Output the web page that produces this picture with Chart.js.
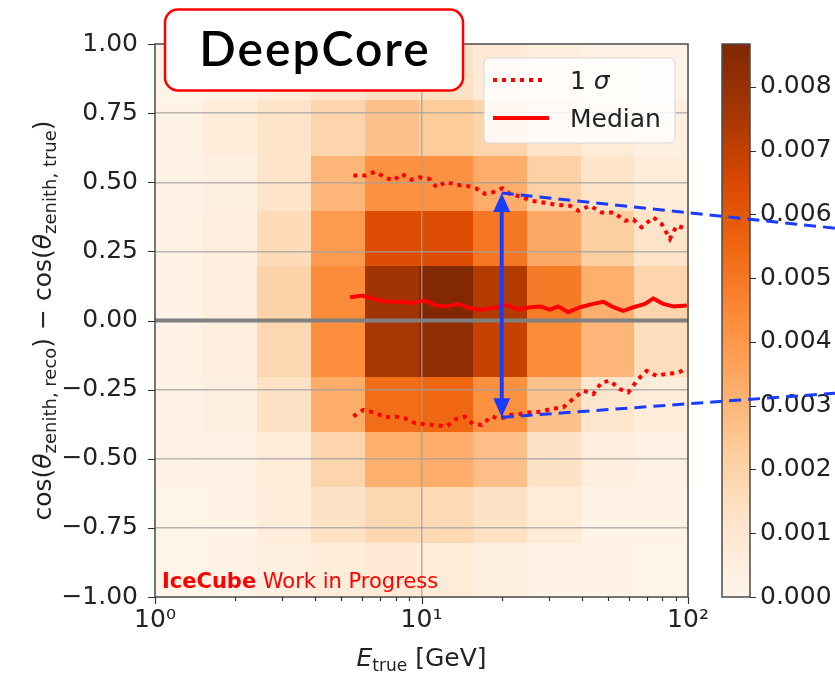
<!DOCTYPE html>
<html>
<head>
<meta charset="utf-8">
<script src="https://cdn.jsdelivr.net/npm/chart.js@4.4.0/dist/chart.umd.min.js"></script>
<style>
  html, body { margin: 0; padding: 0; background: #fff; }
  #wrap { width: 835px; height: 673px; }
</style>
</head>
<body>
<div id="wrap"><canvas id="c" width="835" height="673"></canvas></div>
<script>
// histogram bin edges
const energyEdges = [1.0, 1.5, 2.41, 3.85, 6.14, 9.79, 15.6, 24.9, 39.7, 62.7, 100];
const residualEdges = [-1.0, -0.8, -0.6, -0.4, -0.2, 0.0, 0.2, 0.4, 0.6, 0.8, 1.0];

// normalised counts, one row per residual bin (bottom row first)
const density = [
  [0.0001, 0.0002, 0.0004, 0.0006, 0.0008, 0.0007, 0.0004, 0.0002, 0.0002, 0.0001],
  [0.0001, 0.0002, 0.0006, 0.0013, 0.0018, 0.0017, 0.0013, 0.0007, 0.0002, 0.0002],
  [0.0002, 0.0003, 0.0007, 0.0019, 0.0032, 0.0033, 0.0027, 0.0013, 0.0005, 0.0003],
  [0.0002, 0.0004, 0.0013, 0.0033, 0.0053, 0.0055, 0.0042, 0.0026, 0.0011, 0.0006],
  [0.0002, 0.0005, 0.0018, 0.0043, 0.0076, 0.0082, 0.0069, 0.0044, 0.0030, 0.0015],
  [0.0002, 0.0005, 0.0020, 0.0044, 0.0077, 0.0086, 0.0073, 0.0049, 0.0032, 0.0019],
  [0.0002, 0.0005, 0.0016, 0.0039, 0.0063, 0.0063, 0.0050, 0.0034, 0.0022, 0.0012],
  [0.0002, 0.0004, 0.0012, 0.0030, 0.0042, 0.0042, 0.0033, 0.0021, 0.0012, 0.0006],
  [0.0002, 0.0006, 0.0012, 0.0019, 0.0026, 0.0023, 0.0019, 0.0012, 0.0007, 0.0004],
  [0.0001, 0.0002, 0.0006, 0.0011, 0.0014, 0.0013, 0.0008, 0.0005, 0.0003, 0.0002]
];
const colorMax = 0.00867;

// median curve
const medianEnergy = [5.4, 6.0, 6.6, 7.4, 8.3, 9.2, 10.3, 11.4, 12.4, 13.7, 15.2, 16.6, 18.3, 20.9, 23.1, 25.5,
  27.9, 30.3, 32.6, 35.5, 39.3, 44.1, 48.1, 52.5, 57.2, 62.4, 69.0, 74.1, 80.8, 88.1, 99.0];
const medianResidual = [0.084, 0.090, 0.078, 0.068, 0.068, 0.063, 0.072, 0.054, 0.051, 0.060, 0.044, 0.039, 0.044, 0.056, 0.039, 0.048,
  0.051, 0.039, 0.051, 0.030, 0.048, 0.060, 0.068, 0.048, 0.035, 0.048, 0.060, 0.080, 0.060, 0.051, 0.054];

// 1 sigma band, upper edge
const sigmaHighEnergy = [5.55, 6.14, 6.69, 7.30, 7.84, 8.43, 9.19, 9.87, 10.7, 11.4, 12.4, 13.4, 14.7, 16.0, 17.3, 18.6, 20.1, 21.5,
  23.4, 25.9, 28.6, 32.2, 36.1, 38.8, 42.9, 47.4, 52.5, 58.0, 62.4, 67.0, 74.1, 79.7, 85.5, 90.7, 98.9];
const sigmaHighResidual = [0.524, 0.524, 0.538, 0.518, 0.506, 0.530, 0.509, 0.518, 0.512, 0.482, 0.502, 0.490, 0.488, 0.478, 0.458, 0.464, 0.478, 0.458,
  0.449, 0.433, 0.427, 0.418, 0.415, 0.397, 0.415, 0.391, 0.391, 0.361, 0.365, 0.337, 0.373, 0.349, 0.295, 0.343, 0.331];

// 1 sigma band, lower edge
const sigmaLowEnergy = [5.55, 6.05, 6.59, 7.30, 7.96, 8.67, 9.45, 10.1, 11.2, 12.4, 13.5, 14.5, 15.6, 16.8, 18.3, 19.7, 21.5, 23.4,
  25.5, 27.9, 30.7, 34.0, 37.0, 40.5, 44.1, 47.4, 51.0, 55.4, 59.7, 65.0, 70.0, 76.1, 83.2, 90.7, 98.9];
const sigmaLowResidual = [-0.347, -0.323, -0.332, -0.350, -0.347, -0.354, -0.371, -0.374, -0.378, -0.383, -0.356, -0.347, -0.374, -0.378, -0.347, -0.356, -0.342, -0.338,
  -0.332, -0.330, -0.320, -0.314, -0.284, -0.254, -0.266, -0.224, -0.218, -0.248, -0.260, -0.212, -0.182, -0.200, -0.193, -0.190, -0.175];

// annotation (blue arrow + guide lines), in data units
const arrowEnergy = 20;
const arrowResidual = [0.461, -0.350];
const guideEnergy = 356;
const guideResidual = [0.334, -0.263];

// ticks
const energyTicks = [1, 2, 3, 4, 5, 6, 7, 8, 9, 10, 20, 30, 40, 50, 60, 70, 80, 90, 100];
const residualTicks = [-1, -0.75, -0.5, -0.25, 0, 0.25, 0.5, 0.75, 1];
const colorTicks = [0, 0.001, 0.002, 0.003, 0.004, 0.005, 0.006, 0.007, 0.008];

// matplotlib "Oranges"
const orangesStops = ['#fff5eb', '#fee6ce', '#fdd0a2', '#fdae6b', '#fd8d3c', '#f16913', '#d94801', '#a63603', '#7f2704'];

const FONT = 'DejaVu Sans';
const TEXT = '#222';
const RED = '#ff0000';
const BLUE = '#1a3cff';
const GRID = 'rgba(160,160,160,0.75)';
const FRAME = '#4a4a4a';

const supDigits = { 0: '\u2070', 1: '\u00b9', 2: '\u00b2' };

function hexRgb(h) {
  return [parseInt(h.slice(1, 3), 16), parseInt(h.slice(3, 5), 16), parseInt(h.slice(5, 7), 16)];
}

function orangeAt(t) {
  t = Math.max(0, Math.min(1, t));
  const pos = t * (orangesStops.length - 1);
  const i = Math.min(Math.floor(pos), orangesStops.length - 2);
  const f = pos - i;
  const a = hexRgb(orangesStops[i]), b = hexRgb(orangesStops[i + 1]);
  const c = a.map((v, k) => Math.round(v + (b[k] - v) * f));
  return `rgb(${c[0]},${c[1]},${c[2]})`;
}

function isDecade(v) {
  const l = Math.log10(v);
  return Math.abs(l - Math.round(l)) < 1e-9;
}

function zip(xs, ys) {
  return xs.map((x, i) => ({ x, y: ys[i] }));
}

// the scales get a fixed size so the plot box lands where the reference has it
function fixSize(prop, size) {
  return s => {
    s[prop] = size;
    s.paddingTop = 0; s.paddingBottom = 0;
    s.paddingLeft = 0; s.paddingRight = 0;
  };
}

// draws a run of text pieces (mixed fonts / subscripts) centred on cx
function drawRuns(ctx, runs, cx, baseY) {
  let total = 0;
  runs.forEach(r => { ctx.font = r.font; r.w = ctx.measureText(r.text).width; total += r.w; });
  let px = cx - total / 2;
  runs.forEach(r => {
    ctx.font = r.font;
    ctx.fillText(r.text, px, baseY + (r.dy || 0));
    px += r.w;
  });
}

// 2D histogram cells, drawn before the grid
const heatmapPlugin = {
  id: 'heatmap',
  beforeDraw(chart) {
    const { ctx, scales: { x, y } } = chart;
    ctx.save();
    density.forEach((row, r) => {
      row.forEach((val, c) => {
        const x0 = Math.round(x.getPixelForValue(energyEdges[c]));
        const x1 = Math.round(x.getPixelForValue(energyEdges[c + 1]));
        const y0 = Math.round(y.getPixelForValue(residualEdges[r + 1]));
        const y1 = Math.round(y.getPixelForValue(residualEdges[r]));
        ctx.fillStyle = orangeAt(val / colorMax);
        ctx.fillRect(x0, y0, x1 - x0 + 1, y1 - y0 + 1);
      });
    });
    ctx.restore();
  }
};

const decorPlugin = {
  id: 'decor',
  afterDraw(chart) {
    const { ctx, chartArea: a, scales: { x, y, cb } } = chart;
    ctx.save();

    // frame
    ctx.strokeStyle = FRAME;
    ctx.lineWidth = 1.5;
    ctx.strokeRect(a.left, a.top, a.right - a.left, a.bottom - a.top);

    // tick marks
    ctx.beginPath();
    energyTicks.forEach(v => {
      const px = Math.round(x.getPixelForValue(v)) + 0.5;
      ctx.moveTo(px, a.bottom);
      ctx.lineTo(px, a.bottom + (isDecade(v) ? 7 : 4));
    });
    residualTicks.forEach(v => {
      const py = Math.round(y.getPixelForValue(v)) + 0.5;
      ctx.moveTo(a.left - 7, py);
      ctx.lineTo(a.left, py);
    });
    ctx.lineWidth = 1.2;
    ctx.strokeStyle = '#333';
    ctx.stroke();

    // colour bar
    const barL = a.right + 34, barR = a.right + 62;
    const cTop = cb.getPixelForValue(colorMax), cBot = cb.getPixelForValue(0);
    const grad = ctx.createLinearGradient(0, cBot, 0, cTop);
    orangesStops.forEach((s, i) => grad.addColorStop(i / (orangesStops.length - 1), s));
    ctx.fillStyle = grad;
    ctx.fillRect(barL, cTop, barR - barL, cBot - cTop);
    ctx.strokeStyle = FRAME;
    ctx.lineWidth = 1.5;
    ctx.strokeRect(barL, cTop, barR - barL, cBot - cTop);
    ctx.beginPath();
    colorTicks.forEach(v => {
      const py = Math.round(cb.getPixelForValue(v)) + 0.5;
      ctx.moveTo(barR, py);
      ctx.lineTo(barR + 6, py);
    });
    ctx.lineWidth = 1.2;
    ctx.strokeStyle = '#333';
    ctx.stroke();

    // legend
    const lx = a.right - 204, ly = a.top + 14, lw = 191, lh = 85;
    ctx.beginPath();
    ctx.roundRect(lx, ly, lw, lh, 5);
    ctx.fillStyle = 'rgba(255,255,255,0.82)';
    ctx.fill();
    ctx.strokeStyle = '#d8d8d8';
    ctx.lineWidth = 1;
    ctx.stroke();
    const sigmaSet = chart.data.datasets[1], medianSet = chart.data.datasets[0];
    ctx.lineWidth = sigmaSet.borderWidth;
    ctx.strokeStyle = sigmaSet.borderColor;
    ctx.setLineDash(sigmaSet.borderDash);
    ctx.beginPath();
    ctx.moveTo(lx + 9, ly + 22);
    ctx.lineTo(lx + 62, ly + 22);
    ctx.stroke();
    ctx.setLineDash([]);
    ctx.lineWidth = medianSet.borderWidth;
    ctx.strokeStyle = medianSet.borderColor;
    ctx.beginPath();
    ctx.moveTo(lx + 9, ly + 60);
    ctx.lineTo(lx + 65, ly + 60);
    ctx.stroke();
    ctx.fillStyle = TEXT;
    ctx.textAlign = 'left';
    ctx.textBaseline = 'alphabetic';
    ctx.font = `25px ${FONT}`;
    ctx.fillText('1 ', lx + 86, ly + 31);
    const oneW = ctx.measureText('1 ').width;
    ctx.font = `italic 25px ${FONT}`;
    ctx.fillText('\u03c3', lx + 86 + oneW, ly + 31);
    ctx.font = `25px ${FONT}`;
    ctx.fillText('Median', lx + 86, ly + 69);

    // watermark
    ctx.fillStyle = RED;
    ctx.font = `bold 21px ${FONT}`;
    ctx.fillText('IceCube', a.left + 7, a.bottom - 9);
    const iw = ctx.measureText('IceCube').width;
    ctx.font = `21px ${FONT}`;
    ctx.fillText(' Work in Progress', a.left + 7 + iw, a.bottom - 9);

    // blue arrow and guide lines
    const ax = x.getPixelForValue(arrowEnergy);
    const yTop = y.getPixelForValue(arrowResidual[0]);
    const yBot = y.getPixelForValue(arrowResidual[1]);
    const gx = x.getPixelForValue(guideEnergy);
    ctx.strokeStyle = BLUE;
    ctx.lineWidth = 3;
    ctx.setLineDash([12, 7]);
    ctx.beginPath();
    ctx.moveTo(ax, yTop);
    ctx.lineTo(gx, y.getPixelForValue(guideResidual[0]));
    ctx.moveTo(ax, yBot);
    ctx.lineTo(gx, y.getPixelForValue(guideResidual[1]));
    ctx.stroke();
    ctx.setLineDash([]);
    ctx.lineWidth = 4;
    ctx.beginPath();
    ctx.moveTo(ax, yTop + 16);
    ctx.lineTo(ax, yBot - 16);
    ctx.stroke();
    ctx.fillStyle = BLUE;
    ctx.beginPath();
    ctx.moveTo(ax, yTop);
    ctx.lineTo(ax - 8.5, yTop + 19);
    ctx.lineTo(ax + 8.5, yTop + 19);
    ctx.closePath();
    ctx.moveTo(ax, yBot);
    ctx.lineTo(ax - 8.5, yBot - 19);
    ctx.lineTo(ax + 8.5, yBot - 19);
    ctx.closePath();
    ctx.fill();

    // axis titles
    ctx.fillStyle = TEXT;
    drawRuns(ctx, [
      { text: 'E', font: `italic 25px ${FONT}` },
      { text: 'true', font: `17px ${FONT}`, dy: 5 },
      { text: ' [GeV]', font: `25px ${FONT}` }
    ], (a.left + a.right) / 2, 666);

    ctx.save();
    ctx.translate(51, (a.top + a.bottom) / 2);
    ctx.rotate(-Math.PI / 2);
    drawRuns(ctx, [
      { text: 'cos(', font: `25px ${FONT}` },
      { text: '\u03b8', font: `italic 25px ${FONT}` },
      { text: 'zenith, reco', font: `18px ${FONT}`, dy: 5 },
      { text: ') \u2212 cos(', font: `25px ${FONT}` },
      { text: '\u03b8', font: `italic 25px ${FONT}` },
      { text: 'zenith, true', font: `18px ${FONT}`, dy: 5 },
      { text: ')', font: `25px ${FONT}` }
    ], 0, 0);
    ctx.restore();

    // detector label
    ctx.beginPath();
    ctx.roundRect(165, 9.5, 298, 81, 13);
    ctx.fillStyle = '#fff';
    ctx.fill();
    ctx.strokeStyle = RED;
    ctx.lineWidth = 2.5;
    ctx.stroke();
    ctx.fillStyle = '#000';
    ctx.textAlign = 'center';
    ctx.font = '600 48px Lato';
    ctx.letterSpacing = '2px';
    ctx.fillText('DeepCore', 315, 66);

    ctx.restore();
  }
};

new Chart(document.getElementById('c'), {
  type: 'scatter',
  data: {
    datasets: [
      {
        label: 'Median',
        data: zip(medianEnergy, medianResidual),
        showLine: true, pointRadius: 0,
        borderColor: RED, borderWidth: 4, borderJoinStyle: 'round',
        order: 1
      },
      {
        label: '1 \u03c3',
        data: zip(sigmaHighEnergy, sigmaHighResidual),
        showLine: true, pointRadius: 0,
        borderColor: RED, borderWidth: 4, borderDash: [4, 5],
        order: 1
      },
      {
        label: '1 \u03c3 (lower)',
        data: zip(sigmaLowEnergy, sigmaLowResidual),
        showLine: true, pointRadius: 0,
        borderColor: RED, borderWidth: 4, borderDash: [4, 5],
        order: 1
      },
      {
        label: 'zero',
        data: zip([1, 100], [0, 0]),
        showLine: true, pointRadius: 0,
        borderColor: '#808080', borderWidth: 4,
        order: 5
      }
    ]
  },
  options: {
    responsive: false,
    animation: false,
    events: [],
    layout: { padding: { top: 44, left: 0, right: 0, bottom: 0 } },
    plugins: { legend: { display: false }, tooltip: { enabled: false } },
    scales: {
      x: {
        type: 'logarithmic',
        min: 1, max: 100,
        afterBuildTicks: s => { s.ticks = energyTicks.map(v => ({ value: v, major: isDecade(v) })); },
        afterFit: fixSize('height', 76),
        grid: {
          drawTicks: false,
          color: c => (c.tick && c.tick.value === 10 ? GRID : 'rgba(0,0,0,0)'),
          lineWidth: 1.5
        },
        border: { display: false },
        ticks: {
          autoSkip: false, maxRotation: 0, padding: 8,
          color: TEXT, font: { family: FONT, size: 25 },
          callback: v => (isDecade(v) ? '10' + supDigits[Math.round(Math.log10(v))] : '')
        }
      },
      y: {
        type: 'linear',
        position: 'left',
        min: -1, max: 1,
        afterBuildTicks: s => { s.ticks = residualTicks.map(v => ({ value: v })); },
        afterFit: fixSize('width', 155),
        grid: {
          drawTicks: false,
          color: c => (c.tick && Math.abs(c.tick.value) < 1 ? GRID : 'rgba(0,0,0,0)'),
          lineWidth: 1.5
        },
        border: { display: false },
        ticks: {
          autoSkip: false, padding: 17,
          color: TEXT, font: { family: FONT, size: 25 },
          callback: v => v.toFixed(2).replace('-', '\u2212')
        }
      },
      cb: {
        type: 'linear',
        axis: 'y',
        position: 'right',
        min: 0, max: colorMax,
        afterBuildTicks: s => { s.ticks = colorTicks.map(v => ({ value: v })); },
        afterFit: fixSize('width', 147),
        grid: { drawOnChartArea: false, drawTicks: false },
        border: { display: false },
        ticks: {
          autoSkip: false, padding: 72,
          color: TEXT, font: { family: FONT, size: 25 },
          callback: v => v.toFixed(3)
        }
      }
    }
  },
  plugins: [heatmapPlugin, decorPlugin]
});
</script>
</body>
</html>
